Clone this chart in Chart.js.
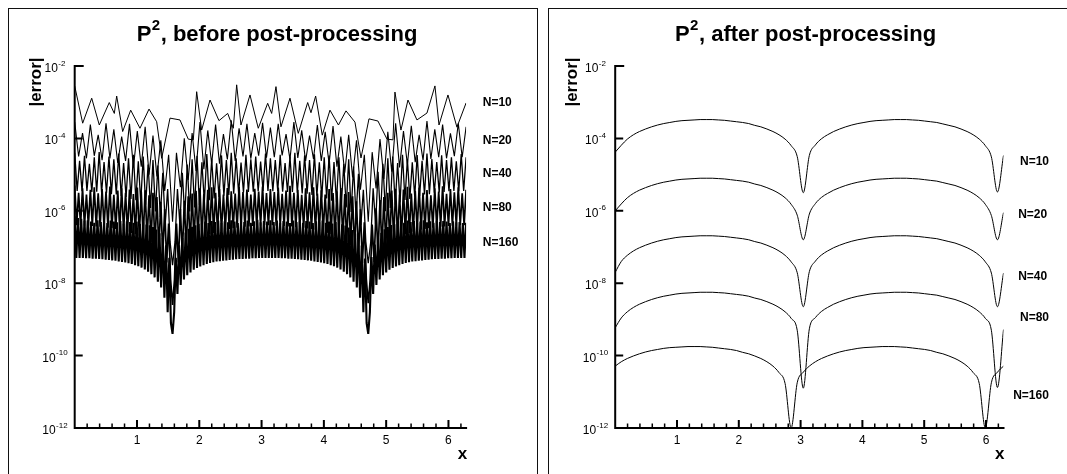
<!DOCTYPE html>
<html><head><meta charset="utf-8">
<script src="https://cdn.jsdelivr.net/npm/chart.js@4.4.1/dist/chart.umd.min.js"></script>
<style>
html,body{margin:0;padding:0;background:#fff;overflow:hidden;}
body{width:1067px;height:474px;position:relative;}
.box{position:absolute;top:8px;width:528px;height:480px;border:1px solid #111;background:#fff;}
#boxL{left:8px;} #boxR{left:548px;}
canvas{position:absolute;top:0;left:0;}
</style></head><body>
<div class="box" id="boxL"><canvas id="cL" width="528" height="466"></canvas></div>
<div class="box" id="boxR"><canvas id="cR" width="528" height="466"></canvas></div>
<script>
const TWO_PI = 2 * Math.PI;

// ---- axis ticks ----
const xTickLabels = [1, 2, 3, 4, 5, 6];
const yTickExps = [-2, -4, -6, -8, -10, -12];
const seriesNames = ['N=10', 'N=20', 'N=40', 'N=80', 'N=160'];

// ---- left panel: |error| before post-processing (log10 values) ----
const n10X = [0.000,0.128,0.273,0.395,0.555,0.636,0.674,0.770,0.899,1.048,1.193,1.316,1.396,1.530,1.690,1.823,1.904,1.958,2.038,2.172,2.316,2.456,2.546,2.600,2.669,2.814,2.947,3.098,3.162,3.231,3.311,3.456,3.589,3.740,3.793,3.868,3.974,4.098,4.234,4.355,4.499,4.596,4.724,4.868,5.013,5.109,5.141,5.237,5.350,5.494,5.655,5.783,5.848,5.992,6.136,6.283];
const n10Before = [-2.55,-3.58,-2.89,-3.63,-3.01,-3.31,-2.83,-3.81,-3.22,-3.72,-3.19,-3.54,-4.55,-3.44,-3.49,-4.02,-4.04,-2.71,-3.77,-2.94,-3.51,-3.31,-3.72,-2.52,-3.63,-2.80,-3.72,-3.03,-3.31,-2.57,-3.68,-2.89,-3.86,-3.01,-3.29,-2.83,-3.91,-3.22,-3.63,-3.24,-3.55,-4.54,-3.46,-3.52,-4.02,-4.04,-2.72,-3.77,-2.94,-3.49,-3.30,-2.55,-3.63,-2.80,-3.69,-3.02];

const n20Before = [
-3.55,-4.50,-3.85,-4.55,-3.62,-4.48,-3.90,-4.60,-3.58,-4.55,
-3.75,-4.68,-3.95,-4.62,-3.60,-4.80,-3.80,-4.78,-3.68,-5.00,
-3.92,-5.05,-4.05,-5.45,-4.45,-6.30,-4.40,-5.35,-4.00,-5.15,
-3.85,-4.90,-3.55,-4.85,-3.78,-4.70,-3.62,-4.70,-3.88,-4.58,
-3.50,-4.62,-3.72,-4.50,-3.60,-4.56,-3.85,-4.48,-3.57,-4.53,
-3.70,
-4.52,-3.60,-4.47,-3.88,-4.58,-3.55,-4.54,-3.78,-4.62,-3.92,
-4.57,-3.63,-4.62,-3.82,-4.70,-3.66,-4.78,-3.95,-4.95,-3.90,
-5.08,-4.05,-5.42,-4.45,-6.30,-4.38,-5.38,-4.02,-5.12,-3.82,
-4.92,-3.58,-4.80,-3.80,-4.72,-3.65,-4.66,-3.90,-4.60,-3.52,
-4.57,-3.75,-4.52,-3.62,-4.55,-3.86,-4.49,-3.58,-4.52,-3.68];

const n40Before = [
-4.40,-5.45,-4.62,-5.46,-4.48,-5.45,-4.70,-5.48,-4.52,-5.47,
-4.38,-5.50,-4.65,-5.51,-4.50,-5.54,-4.58,-5.55,-4.42,-5.59,
-4.68,-5.62,-4.55,-5.67,-4.45,-5.71,-4.63,-5.77,-4.50,-5.83,
-4.72,-5.92,-4.60,-6.02,-4.75,-6.17,-4.95,-6.38,-5.40,-6.86,
-7.50,-6.86,-5.40,-6.38,-4.95,-6.16,-4.72,-6.02,-4.58,-5.91,
-4.48,-5.84,-4.66,-5.76,-4.43,-5.71,-4.57,-5.66,-4.69,-5.62,
-4.47,-5.58,-4.60,-5.56,-4.40,-5.53,-4.55,-5.51,-4.67,-5.49,
-4.45,-5.48,-4.58,-5.47,-4.50,-5.46,-4.64,-5.45,-4.42,-5.45,
-4.55,
-5.46,-4.60,-5.45,-4.45,-5.47,-4.68,-5.48,-4.50,-5.48,-4.40,
-5.50,-4.62,-5.52,-4.47,-5.53,-4.60,-5.56,-4.44,-5.58,-4.66,
-5.63,-4.52,-5.66,-4.47,-5.72,-4.65,-5.76,-4.52,-5.84,-4.70,
-5.91,-4.58,-6.03,-4.78,-6.16,-4.98,-6.39,-5.42,-6.85,-7.45,
-6.87,-5.38,-6.37,-4.92,-6.17,-4.70,-6.01,-4.55,-5.92,-4.50,
-5.83,-4.68,-5.77,-4.45,-5.70,-4.58,-5.67,-4.66,-5.61,-4.46,
-5.59,-4.62,-5.55,-4.42,-5.54,-4.57,-5.50,-4.65,-5.49,-4.47,
-5.48,-4.60,-5.46,-4.52,-5.45,-4.63,-5.46,-4.43,-5.45,-4.52];

const n80Before = [
-5.30,-6.40,-5.50,-6.40,-5.38,-6.41,-5.55,-6.41,-5.42,-6.42,
-5.35,-6.43,-5.52,-6.44,-5.40,-6.45,-5.47,-6.47,-5.33,-6.48,
-5.56,-6.50,-5.44,-6.52,-5.38,-6.55,-5.50,-6.58,-5.41,-6.61,
-5.54,-6.65,-5.36,-6.69,-5.48,-6.74,-5.43,-6.80,-5.57,-6.87,
-5.50,-6.95,-5.62,-7.06,-5.75,-7.21,-5.95,-7.43,-6.35,-7.90,
-8.60,-7.90,-6.35,-7.43,-5.95,-7.21,-5.72,-7.06,-5.60,-6.95,
-5.52,-6.87,-5.45,-6.80,-5.38,-6.74,-5.53,-6.69,-5.42,-6.65,
-5.35,-6.61,-5.50,-6.58,-5.40,-6.55,-5.55,-6.52,-5.37,-6.50,
-5.46,-6.48,-5.52,-6.47,-5.34,-6.45,-5.48,-6.44,-5.41,-6.43,
-5.55,-6.42,-5.39,-6.41,-5.47,-6.41,-5.33,-6.40,-5.51,-6.40,
-5.40,
-6.40,-5.48,-6.41,-5.36,-6.41,-5.53,-6.42,-5.44,-6.43,-5.31,
-6.43,-5.50,-6.45,-5.42,-6.46,-5.56,-6.47,-5.38,-6.49,-5.49,
-6.50,-5.35,-6.52,-5.52,-6.55,-5.43,-6.58,-5.55,-6.61,-5.40,
-6.65,-5.51,-6.69,-5.46,-6.74,-5.37,-6.80,-5.54,-6.87,-5.48,
-6.95,-5.60,-7.06,-5.74,-7.21,-5.96,-7.44,-6.32,-7.88,-8.55,
-7.91,-6.38,-7.42,-5.93,-7.22,-5.70,-7.05,-5.62,-6.96,-5.50,
-6.87,-5.44,-6.80,-5.39,-6.75,-5.55,-6.69,-5.41,-6.65,-5.34,
-6.61,-5.52,-6.58,-5.45,-6.55,-5.36,-6.52,-5.50,-6.50,-5.43,
-6.48,-5.57,-6.47,-5.38,-6.45,-5.47,-6.44,-5.32,-6.43,-5.53,
-6.42,-5.40,-6.41,-5.49,-6.41,-5.35,-6.40,-5.52,-6.40,-5.42];

const n160Before = [
-6.15,-7.30,-6.20,-7.30,-6.22,-7.30,-6.27,-7.31,-6.26,-7.31,
-6.30,-7.32,-6.33,-7.32,-6.26,-7.33,-6.31,-7.34,-6.29,-7.35,
-6.34,-7.36,-6.27,-7.37,-6.30,-7.38,-6.32,-7.40,-6.28,-7.41,
-6.35,-7.43,-6.29,-7.45,-6.31,-7.47,-6.33,-7.50,-6.30,-7.53,
-6.36,-7.57,-6.32,-7.62,-6.38,-7.68,-6.40,-7.75,-6.45,-7.84,
-6.52,-7.96,-6.62,-8.12,-6.75,-8.40,-6.95,-8.80,-7.30,-9.10,
-9.40,-8.80,-7.30,-8.30,-6.95,-8.05,-6.75,-7.90,-6.60,-7.78,
-6.50,-7.70,-6.44,-7.63,-6.40,-7.58,-6.36,-7.54,-6.33,-7.50,
-6.30,-7.47,-6.34,-7.44,-6.28,-7.42,-6.31,-7.40,-6.27,-7.39,
-6.33,-7.38,-6.29,-7.37,-6.32,-7.36,-6.26,-7.35,-6.30,-7.34,
-6.34,-7.33,-6.28,-7.33,-6.31,-7.32,-6.27,-7.32,-6.33,-7.31,
-6.29,-7.31,-6.25,-7.30,-6.32,-7.30,-6.28,-7.30,-6.30,-7.30,
-6.26,
-7.30,-6.31,-7.30,-6.27,-7.30,-6.33,-7.31,-6.28,-7.31,-6.30,
-7.32,-6.34,-7.32,-6.27,-7.33,-6.31,-7.34,-6.29,-7.35,-6.33,
-7.36,-6.28,-7.37,-6.30,-7.38,-6.34,-7.40,-6.29,-7.41,-6.32,
-7.43,-6.27,-7.45,-6.33,-7.47,-6.30,-7.50,-6.35,-7.53,-6.31,
-7.57,-6.34,-7.62,-6.37,-7.68,-6.41,-7.75,-6.46,-7.84,-6.53,
-7.96,-6.63,-8.12,-6.76,-8.40,-6.96,-8.80,-7.32,-9.10,-9.40,
-8.80,-7.28,-8.30,-6.93,-8.05,-6.74,-7.90,-6.61,-7.78,-6.51,
-7.70,-6.45,-7.63,-6.39,-7.58,-6.37,-7.54,-6.32,-7.50,-6.29,
-7.47,-6.33,-7.44,-6.27,-7.42,-6.31,-7.40,-6.28,-7.39,-6.34,
-7.38,-6.30,-7.37,-6.26,-7.36,-6.32,-7.35,-6.29,-7.34,-6.33,
-7.33,-6.27,-7.33,-6.31,-7.32,-6.28,-7.32,-6.30,-7.31,-6.34,
-7.31,-6.29,-7.30,-6.32,-7.30,-6.31,-7.30,-6.34,-7.30,-6.33];

// ---- right panel: |error| after post-processing (log10 values, 65 samples on [0, 2pi]) ----
const n10After = [
-4.38,-4.19,-4.02,-3.90,-3.81,-3.74,-3.68,-3.63,-3.59,-3.56,
-3.53,-3.51,-3.50,-3.49,-3.48,-3.48,-3.48,-3.49,-3.50,-3.52,
-3.54,-3.56,-3.59,-3.64,-3.68,-3.74,-3.81,-3.90,-4.02,-4.20,
-4.50,-5.50,-4.47,-4.18,-4.01,-3.90,-3.81,-3.74,-3.68,-3.63,
-3.59,-3.56,-3.53,-3.51,-3.50,-3.49,-3.48,-3.48,-3.48,-3.49,
-3.50,-3.52,-3.54,-3.56,-3.60,-3.64,-3.68,-3.74,-3.81,-3.90,
-4.02,-4.20,-4.51,-5.48,-4.47];
const n20After = [
-6.00,-5.81,-5.64,-5.52,-5.43,-5.36,-5.30,-5.25,-5.21,-5.18,
-5.15,-5.13,-5.12,-5.11,-5.10,-5.10,-5.10,-5.11,-5.12,-5.14,
-5.16,-5.18,-5.21,-5.26,-5.30,-5.36,-5.43,-5.52,-5.64,-5.82,
-6.12,-6.80,-6.09,-5.80,-5.63,-5.52,-5.43,-5.36,-5.30,-5.25,
-5.21,-5.18,-5.15,-5.13,-5.12,-5.11,-5.10,-5.10,-5.10,-5.11,
-5.12,-5.14,-5.16,-5.18,-5.22,-5.26,-5.30,-5.36,-5.43,-5.52,
-5.64,-5.82,-6.13,-6.80,-6.05];
const n40After = [
-7.70,-7.40,-7.23,-7.11,-7.02,-6.95,-6.89,-6.84,-6.80,-6.77,
-6.74,-6.72,-6.71,-6.70,-6.69,-6.69,-6.69,-6.70,-6.71,-6.73,
-6.75,-6.77,-6.80,-6.85,-6.89,-6.95,-7.02,-7.11,-7.23,-7.41,
-7.71,-8.65,-7.68,-7.39,-7.22,-7.11,-7.02,-6.95,-6.89,-6.84,
-6.80,-6.77,-6.74,-6.72,-6.71,-6.70,-6.69,-6.69,-6.69,-6.70,
-6.71,-6.73,-6.75,-6.77,-6.81,-6.85,-6.89,-6.95,-7.02,-7.11,
-7.23,-7.41,-7.72,-8.65,-7.72];
const n80After = [
-9.23,-8.96,-8.79,-8.67,-8.58,-8.51,-8.45,-8.40,-8.36,-8.33,
-8.30,-8.28,-8.27,-8.26,-8.25,-8.25,-8.25,-8.26,-8.27,-8.29,
-8.31,-8.33,-8.36,-8.41,-8.45,-8.51,-8.58,-8.67,-8.79,-8.97,
-9.30,-10.90,-9.26,-8.95,-8.78,-8.67,-8.58,-8.51,-8.45,-8.40,
-8.36,-8.33,-8.30,-8.28,-8.27,-8.26,-8.25,-8.25,-8.25,-8.26,
-8.27,-8.29,-8.31,-8.33,-8.37,-8.41,-8.45,-8.51,-8.58,-8.67,
-8.79,-8.97,-9.30,-10.88,-9.28];
const n160After = [
-10.29,-10.17,-10.08,-10.01,-9.95,-9.90,-9.86,-9.83,-9.80,-9.78,
-9.77,-9.76,-9.75,-9.75,-9.75,-9.76,-9.77,-9.79,-9.81,-9.83,
-9.86,-9.91,-9.95,-10.01,-10.08,-10.17,-10.29,-10.47,-10.77,-12.00,
-10.75,-10.46,-10.29,-10.17,-10.08,-10.01,-9.95,-9.90,-9.86,-9.83,
-9.80,-9.78,-9.77,-9.76,-9.75,-9.75,-9.75,-9.76,-9.77,-9.79,
-9.81,-9.83,-9.86,-9.91,-9.95,-10.01,-10.08,-10.17,-10.29,-10.47,
-10.77,-12.00,-10.75,-10.46,-10.29];

// ---- series label anchors (data coords: x, log10 y) ----
const labelXBefore = [6.55, 6.55, 6.55, 6.55, 6.55];
const labelYBefore = [-3.01, -4.07, -4.98, -5.92, -6.88];
const labelXAfter = [6.55, 6.52, 6.52, 6.55, 6.44];
const labelYAfter = [-4.64, -6.12, -7.82, -8.95, -11.10];

// ---- helpers ----
const grid = n => Array.from({length: n}, (_, i) => i * TWO_PI / (n - 1));
const toPts = (xs, vs) => vs.map((v, i) => ({x: xs[i], y: Math.pow(10, v)}));
const FONT = '"Liberation Sans", Arial, Helvetica, sans-serif';

function makeDecor(cfg) {
  return {
    id: 'decor',
    afterDatasetsDraw(chart) {
      const ctx = chart.ctx, xs = chart.scales.x, ys = chart.scales.y, a = chart.chartArea;
      const X = v => xs.getPixelForValue(v);
      const Y = e => ys.getPixelForValue(Math.pow(10, e));
      ctx.save();
      ctx.fillStyle = '#000'; ctx.strokeStyle = '#000'; ctx.lineCap = 'butt';
      // major ticks
      ctx.lineWidth = 2;
      ctx.beginPath();
      yTickExps.forEach(e => {
        if (e === -12) return;
        const y = Y(e);
        ctx.moveTo(a.left, y); ctx.lineTo(a.left + (e === -2 ? 9 : 8), y);
      });
      xTickLabels.forEach(v => { const x = X(v); ctx.moveTo(x, a.bottom); ctx.lineTo(x, a.bottom - 8); });
      ctx.stroke();
      // minor ticks
      ctx.lineWidth = 1.5;
      ctx.beginPath();
      for (let k = 1; k <= 31; k++) {
        if (k % 5 === 0) continue;
        const x = X(k * 0.2);
        ctx.moveTo(x, a.bottom); ctx.lineTo(x, a.bottom - 4.5);
      }
      ctx.stroke();
      // axes
      ctx.lineWidth = 2;
      ctx.beginPath();
      ctx.moveTo(a.left, Y(-2) - 1); ctx.lineTo(a.left, a.bottom); ctx.lineTo(X(TWO_PI) + 1, a.bottom);
      ctx.stroke();
      // y tick labels 10^e
      ctx.textAlign = 'left'; ctx.textBaseline = 'alphabetic';
      yTickExps.forEach(e => {
        const y = Y(e), sup = String(e);
        ctx.font = '12px ' + FONT; const w1 = ctx.measureText('10').width;
        ctx.font = '8px ' + FONT; const w2 = ctx.measureText(sup).width;
        const x0 = a.left - 20 - (w1 + w2) / 2;
        ctx.font = '12px ' + FONT; ctx.fillText('10', x0, y + 6);
        ctx.font = '8px ' + FONT; ctx.fillText(sup, x0 + w1 + 0.5, y - 0.5);
      });
      // x tick labels
      ctx.font = '12px ' + FONT; ctx.textAlign = 'center';
      xTickLabels.forEach(v => ctx.fillText(String(v), X(v), a.bottom + 16));
      // x axis title
      ctx.font = 'bold 17px ' + FONT; ctx.textAlign = 'right';
      ctx.fillText('x', X(TWO_PI) + 1, a.bottom + 31);
      // y axis title (rotated)
      ctx.save();
      ctx.translate(cfg.yTitleX, 73);
      ctx.rotate(-Math.PI / 2);
      ctx.font = 'bold 17px ' + FONT; ctx.textAlign = 'center'; ctx.textBaseline = 'middle';
      ctx.fillText('|error|', 0, 0);
      ctx.restore();
      // chart title with superscript
      ctx.textAlign = 'left'; ctx.textBaseline = 'alphabetic';
      ctx.font = 'bold 22px ' + FONT; const wP = ctx.measureText('P').width;
      const wR = ctx.measureText(cfg.titleRest).width;
      ctx.font = 'bold 15px ' + FONT; const wS = ctx.measureText('2').width;
      const tx = cfg.titleX - (wP + wS + wR) / 2;
      ctx.font = 'bold 22px ' + FONT; ctx.fillText('P', tx, 31.5);
      ctx.font = 'bold 15px ' + FONT; ctx.fillText('2', tx + wP + 0.5, 20.5);
      ctx.font = 'bold 22px ' + FONT; ctx.fillText(cfg.titleRest, tx + wP + wS + 1, 31.5);
      // series labels
      ctx.font = 'bold 12px ' + FONT; ctx.textAlign = 'left'; ctx.textBaseline = 'middle';
      seriesNames.forEach((s, i) => ctx.fillText(s, X(cfg.lx[i]), Y(cfg.ly[i])));
      ctx.restore();
    }
  };
}

function makeChart(id, datasets, decor, pad) {
  return new Chart(document.getElementById(id), {
    type: 'line',
    data: {datasets},
    options: {
      responsive: false, maintainAspectRatio: false, animation: false, events: [],
      layout: {padding: pad},
      plugins: {legend: {display: false}, tooltip: {enabled: false}, title: {display: false}},
      scales: {
        x: {type: 'linear', min: 0, max: TWO_PI, display: false},
        y: {type: 'logarithmic', min: 1e-12, max: 1e-2, display: false}
      },
      elements: {point: {radius: 0}, line: {borderColor: '#000', borderWidth: 1}}
    },
    plugins: [decor]
  });
}

const ds = (pts, w, smooth) => ({
  data: pts, borderColor: '#000', borderWidth: w, pointRadius: 0, fill: false,
  tension: 0, cubicInterpolationMode: smooth ? 'monotone' : 'default',
  borderJoinStyle: smooth ? 'miter' : 'bevel'
});

makeChart('cL', [
  ds(toPts(grid(n160Before.length), n160Before), 2.1, false),
  ds(toPts(grid(n80Before.length), n80Before), 1.7, false),
  ds(toPts(grid(n40Before.length), n40Before), 1.3, false),
  ds(toPts(grid(n20Before.length), n20Before), 1.1, false),
  ds(toPts(n10X, n10Before), 1, false)
], makeDecor({titleRest: ', before post-processing', titleX: 267.5, yTitleX: 27.5, lx: labelXBefore, ly: labelYBefore}),
  {left: 65.7, right: 70.9, top: 57, bottom: 47});

const xAfter = grid(65);
makeChart('cR', [
  ds(toPts(xAfter, n10After), 1, true),
  ds(toPts(xAfter, n20After), 1, true),
  ds(toPts(xAfter, n40After), 1, true),
  ds(toPts(xAfter, n80After), 1, true),
  ds(toPts(xAfter, n160After), 1, true)
], makeDecor({titleRest: ', after post-processing', titleX: 256, yTitleX: 23.5, lx: labelXAfter, ly: labelYAfter}),
  {left: 66.2, right: 73.5, top: 57, bottom: 47});
</script>
</body></html>
